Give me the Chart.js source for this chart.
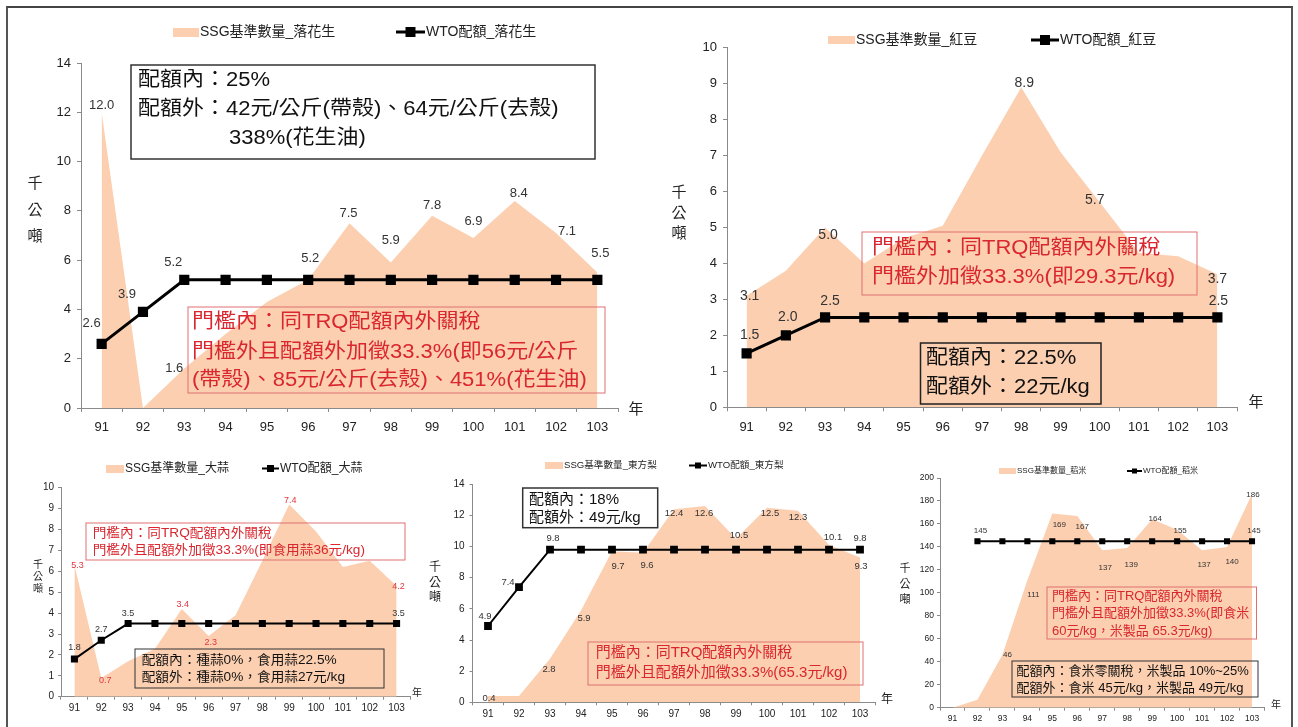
<!DOCTYPE html>
<html>
<head>
<meta charset="utf-8">
<script src="https://cdn.jsdelivr.net/npm/chart.js@4.4.1/dist/chart.umd.min.js"></script>
<style>
	html, body { margin: 0; padding: 0; background: #fff; }
	#wrap { position: relative; width: 1298px; height: 727px; overflow: hidden; }
	#wrap canvas { position: absolute; left: 0; top: 0; }
	#frame { position: absolute; left: 6px; top: 6px; width: 1283px; height: 740px;
		border-top: 2px solid #444; border-left: 2px solid #555; border-right: 2px solid #555; }
</style>
</head>
<body>
<div id="wrap"><div id="frame"></div></div>
<script>
( function () {
	'use strict';

	// ── Data ─────────────────────────────────────────────────────────────

	const YEARS = [ '91', '92', '93', '94', '95', '96', '97', '98', '99', '100', '101', '102', '103' ];

	// 落花生
	const peanutSsg = [ 12.0, 0, 1.6, 3.0, 4.3, 5.2, 7.5, 5.9, 7.8, 6.9, 8.4, 7.1, 5.5 ];
	const peanutWto = [ 2.6, 3.9, 5.2, 5.2, 5.2, 5.2, 5.2, 5.2, 5.2, 5.2, 5.2, 5.2, 5.2 ];
	const peanutSsgText = [ '12.0', null, '1.6', null, null, '5.2', '7.5', '5.9', '7.8', '6.9', '8.4', '7.1', '5.5' ];
	const peanutWtoText = [ '2.6', '3.9', '5.2', null, null, null, null, null, null, null, null, null, null ];

	// 紅豆
	const beanSsg = [ 3.1, 3.8, 5.0, 4.0, 4.7, 5.05, 7.0, 8.9, 7.1, 5.7, 4.3, 4.2, 3.7 ];
	const beanWto = [ 1.5, 2.0, 2.5, 2.5, 2.5, 2.5, 2.5, 2.5, 2.5, 2.5, 2.5, 2.5, 2.5 ];
	const beanSsgText = [ '3.1', null, '5.0', null, null, null, null, '8.9', null, '5.7', null, null, '3.7' ];
	const beanWtoText = [ '1.5', '2.0', '2.5', null, null, null, null, null, null, null, null, null, '2.5' ];

	// 大蒜 (the printed labels differ from the plotted heights in the source)
	const garlicSsg = [ 6.3, 0.9, 1.7, 2.3, 4.2, 2.9, 3.9, 6.5, 9.2, 7.9, 6.2, 6.5, 5.3 ];
	const garlicWto = [ 1.8, 2.7, 3.5, 3.5, 3.5, 3.5, 3.5, 3.5, 3.5, 3.5, 3.5, 3.5, 3.5 ];
	const garlicSsgText = [ '5.3', '0.7', null, null, '3.4', '2.3', null, null, '7.4', null, null, null, '4.2' ];
	const garlicWtoText = [ '1.8', '2.7', '3.5', null, null, null, null, null, null, null, null, null, '3.5' ];

	// 東方梨
	const pearSsg = [ 0.4, 0.4, 2.8, 5.9, 9.7, 9.6, 12.4, 12.6, 10.5, 12.5, 12.3, 10.1, 9.3 ];
	const pearWto = [ 4.9, 7.4, 9.8, 9.8, 9.8, 9.8, 9.8, 9.8, 9.8, 9.8, 9.8, 9.8, 9.8 ];
	const pearSsgText = [ '0.4', null, '2.8', '5.9', '9.7', '9.6', '12.4', '12.6', '10.5', '12.5', '12.3', '10.1', '9.3' ];
	const pearWtoText = [ '4.9', '7.4', '9.8', null, null, null, null, null, null, null, null, null, '9.8' ];

	// 稻米
	const riceSsg = [ 0, 7, 46, 111, 169, 167, 137, 139, 164, 155, 137, 140, 186 ];
	const riceWto = [ null, 145, 145, 145, 145, 145, 145, 145, 145, 145, 145, 145, 145 ];
	const riceSsgText = [ null, null, '46', '111', '169', '167', '137', '139', '164', '155', '137', '140', '186' ];
	const riceWtoText = [ null, '145', null, null, null, null, null, null, null, null, null, null, '145' ];

	// ── Styles ───────────────────────────────────────────────────────────

	const PEACH = '#FBCFB0';
	const AXIS = '#8a8a8a';
	const INK = '#222';
	const RED = '#D9262F';
	const RED_BOX = '#E07070';
	const FONT = '"Liberation Sans", Arial, "Noto Sans CJK TC", sans-serif';
	const Y_W = 60;

	function font( px ) {
		return px + 'px ' + FONT;
	}

	function stretchText( ctx, text, x, y, sx ) {
		ctx.save();
		ctx.translate( x, y );
		ctx.scale( sx || 1, 1 );
		ctx.fillText( text, 0, 0 );
		ctx.restore();
	}

	// ── Overlay: value labels, notes, legend, axis captions ──────────────

	function overlay( c ) {
		return {
			id: 'overlay_' + c.id,
			afterDatasetsDraw: function ( chart ) {
				var ctx = chart.ctx;
				c.valueLabels.forEach( function ( vl ) {
					var meta = chart.getDatasetMeta( vl.dataset );
					ctx.save();
					ctx.font = font( c.labelFont );
					ctx.fillStyle = vl.color;
					ctx.textAlign = 'center';
					ctx.textBaseline = 'middle';
					vl.text.forEach( function ( t, j ) {
						if ( t === null ) {
							return;
						}
						var p = meta.data[ j ];
						var off = ( vl.offsets && vl.offsets[ j ] ) || vl.def;
						ctx.fillText( t, p.x + off[ 0 ], p.y + off[ 1 ] );
					} );
					ctx.restore();
				} );
			},
			afterDraw: function ( chart ) {
				var ctx = chart.ctx;
				ctx.save();

				// note boxes
				c.notes.forEach( function ( n ) {
					ctx.strokeStyle = n.stroke;
					ctx.lineWidth = n.lw;
					ctx.strokeRect( n.box[ 0 ], n.box[ 1 ], n.box[ 2 ] - n.box[ 0 ], n.box[ 3 ] - n.box[ 1 ] );
					ctx.fillStyle = n.color;
					ctx.font = font( n.font );
					ctx.textAlign = 'left';
					ctx.textBaseline = 'middle';
					n.lines.forEach( function ( l ) {
						stretchText( ctx, l[ 0 ], l[ 1 ], l[ 2 ], n.sx );
					} );
				} );

				// legend
				var lg = c.legend;
				var ds = chart.data.datasets;
				ctx.fillStyle = PEACH;
				ctx.fillRect( lg.swatch[ 0 ], lg.swatch[ 1 ], lg.swatch[ 2 ], lg.swatch[ 3 ] );
				ctx.strokeStyle = '#000';
				ctx.lineWidth = c.lineW;
				ctx.beginPath();
				ctx.moveTo( lg.line[ 0 ], lg.y );
				ctx.lineTo( lg.line[ 1 ], lg.y );
				ctx.stroke();
				ctx.fillStyle = '#000';
				var m = ( lg.line[ 0 ] + lg.line[ 1 ] ) / 2;
				ctx.fillRect( m - lg.sq / 2, lg.y - lg.sq / 2, lg.sq, lg.sq );
				ctx.fillStyle = INK;
				ctx.font = font( lg.font );
				ctx.textAlign = 'left';
				ctx.textBaseline = 'middle';
				ctx.fillText( ds[ 0 ].label, lg.text[ 0 ], lg.y );
				ctx.fillText( ds[ 1 ].label, lg.text[ 1 ], lg.y );

				// y title (stacked) and year mark
				ctx.textAlign = 'center';
				ctx.font = font( c.yTitle.font );
				[ '千', '公', '噸' ].forEach( function ( ch, i ) {
					ctx.fillText( ch, c.yTitle.x, c.yTitle.y[ i ] );
				} );
				ctx.font = font( c.yearMark.font );
				ctx.fillText( '年', c.yearMark.x, c.yearMark.y );
				ctx.restore();
			},
		};
	}

	// ── Chart builder ────────────────────────────────────────────────────

	function buildChart( c ) {
		var canvas = document.createElement( 'canvas' );
		canvas.width = 1298;
		canvas.height = 727;
		document.getElementById( 'wrap' ).appendChild( canvas );

		// x axis box must be tall enough to hold its labels (they are clipped to it)
		var xH = Math.min( 30, 727 - c.plot[ 3 ] );

		new Chart( canvas.getContext( '2d' ), {
			type: 'line',
			data: {
				labels: YEARS,
				datasets: [ {
					label: c.ssgLabel,
					data: c.ssg,
					fill: 'origin',
					backgroundColor: PEACH,
					borderWidth: 0,
					pointRadius: 0,
					tension: 0,
					order: 2,
				}, {
					label: c.wtoLabel,
					data: c.wto,
					fill: false,
					borderColor: '#000',
					borderWidth: c.lineW,
					pointStyle: 'rect',
					pointRadius: c.pointR,
					pointBackgroundColor: '#000',
					pointBorderColor: '#000',
					pointBorderWidth: 0,
					tension: 0,
					order: 1,
				} ],
			},
			options: {
				responsive: false,
				animation: false,
				devicePixelRatio: 1,
				layout: {
					padding: {
						left: c.plot[ 0 ] - Y_W,
						top: c.plot[ 1 ],
						right: 1298 - c.plot[ 2 ],
						bottom: 727 - c.plot[ 3 ] - xH,
					},
				},
				plugins: {
					legend: { display: false },
					tooltip: { enabled: false },
				},
				scales: {
					x: {
						offset: true,
						grid: { offset: true, drawOnChartArea: false, tickLength: c.tickLen, color: AXIS },
						border: { color: AXIS },
						ticks: { font: { family: FONT, size: c.tickFont }, color: INK, padding: c.xPad, maxRotation: 0, autoSkip: false },
						afterFit: function ( s ) { s.height = xH; },
					},
					y: {
						min: 0,
						max: c.yMax,
						grid: { drawOnChartArea: false, tickLength: c.tickLen, color: AXIS },
						border: { color: AXIS },
						ticks: { stepSize: c.yStep, font: { family: FONT, size: c.tickFont }, color: INK, padding: c.yPad },
						afterFit: function ( s ) { s.width = Y_W; },
					},
				},
			},
			plugins: [ overlay( c ) ],
		} );
	}

	// ── Charts ───────────────────────────────────────────────────────────

	var charts = [ {
		id: 'peanut',
		ssgLabel: 'SSG基準數量_落花生',
		wtoLabel: 'WTO配額_落花生',
		ssg: peanutSsg,
		wto: peanutWto,
		plot: [ 81, 63, 618, 408 ],
		yMax: 14, yStep: 2,
		tickFont: 13, tickLen: 4, xPad: 8, yPad: 6,
		lineW: 3, pointR: 7.2, labelFont: 13,
		valueLabels: [ {
			dataset: 0, text: peanutSsgText, color: '#333', def: [ 0, -10 ],
			offsets: [ [ 0, -7 ], null, [ -10, 0 ], null, null, [ 2, -21 ], [ -1, -10 ], [ 0, -22 ], [ 0, -10 ], [ 0, -17 ], [ 4, -8 ], [ 11, -2 ], [ 3, -19 ] ],
		}, {
			dataset: 1, text: peanutWtoText, color: '#333', def: [ 0, -10 ],
			offsets: [ [ -10, -21 ], [ -16, -17 ], [ -11, -17 ] ],
		} ],
		notes: [ {
			box: [ 131, 65, 595, 159 ], stroke: '#333', lw: 1.5, color: '#111', font: 20, sx: 1.1,
			lines: [ [ '配額內：25%', 138, 80 ], [ '配額外：42元/公斤(帶殼)、64元/公斤(去殼)', 138, 109 ], [ '338%(花生油)', 229, 138 ] ],
		}, {
			box: [ 188, 307, 605, 393 ], stroke: RED_BOX, lw: 1, color: RED, font: 20, sx: 1.1,
			lines: [ [ '門檻內：同TRQ配額內外關稅', 192, 322 ], [ '門檻外且配額外加徵33.3%(即56元/公斤', 192, 352 ], [ '(帶殼)、85元/公斤(去殼)、451%(花生油)', 192, 380 ] ],
		} ],
		legend: { y: 32, swatch: [ 173, 28, 26, 9 ], line: [ 396, 425 ], sq: 10, text: [ 200, 426 ], font: 14 },
		yTitle: { x: 35, y: [ 184, 211, 237 ], font: 15 },
		yearMark: { x: 636, y: 410, font: 15 },
	}, {
		id: 'bean',
		ssgLabel: 'SSG基準數量_紅豆',
		wtoLabel: 'WTO配額_紅豆',
		ssg: beanSsg,
		wto: beanWto,
		plot: [ 727, 47.7, 1237, 407.3 ],
		yMax: 10, yStep: 1,
		tickFont: 13, tickLen: 4, xPad: 8, yPad: 6,
		lineW: 3, pointR: 7.2, labelFont: 14,
		valueLabels: [ {
			dataset: 0, text: beanSsgText, color: '#333', def: [ 0, -10 ],
			offsets: [ [ 3, 0 ], null, [ 3, 8 ], null, null, null, null, [ 3, -4 ], null, [ -5, -2 ], null, null, [ 0, 5 ] ],
		}, {
			dataset: 1, text: beanWtoText, color: '#333', def: [ 1, -16 ],
			offsets: [ [ 3, -18 ], [ 2, -18 ], [ 5, -16 ] ],
		} ],
		notes: [ {
			box: [ 862, 232, 1197, 295 ], stroke: RED_BOX, lw: 1, color: RED, font: 20, sx: 1.1,
			lines: [ [ '門檻內：同TRQ配額內外關稅', 872, 248 ], [ '門檻外加徵33.3%(即29.3元/kg)', 872, 277 ] ],
		}, {
			box: [ 920.5, 343, 1101, 404 ], stroke: '#222', lw: 1.5, color: '#111', font: 20, sx: 1.1,
			lines: [ [ '配額內：22.5%', 926, 358 ], [ '配額外：22元/kg', 926, 387 ] ],
		} ],
		legend: { y: 40, swatch: [ 828, 36, 27, 8 ], line: [ 1031, 1059 ], sq: 10, text: [ 856, 1060 ], font: 14 },
		yTitle: { x: 679, y: [ 193, 214, 234 ], font: 15 },
		yearMark: { x: 1256, y: 403, font: 15 },
	}, {
		id: 'garlic',
		ssgLabel: 'SSG基準數量_大蒜',
		wtoLabel: 'WTO配額_大蒜',
		ssg: garlicSsg,
		wto: garlicWto,
		plot: [ 61, 487.7, 410, 696.7 ],
		yMax: 10, yStep: 1,
		tickFont: 10, tickLen: 3, xPad: 3, yPad: 4,
		lineW: 2, pointR: 5, labelFont: 9,
		valueLabels: [ {
			dataset: 0, text: garlicSsgText, color: '#E0353D', def: [ 0, -5 ],
			offsets: [ [ 3, 0 ], [ 4, 3 ], null, null, [ 1, -4 ], [ 2, 6 ], null, null, [ 1, -4 ], null, null, null, [ 2, 1 ] ],
		}, {
			dataset: 1, text: garlicWtoText, color: '#333', def: [ 2, -10 ],
			offsets: [ [ 0, -12 ], [ 0, -11 ], [ 0, -10 ] ],
		} ],
		notes: [ {
			box: [ 86, 523, 405, 560 ], stroke: RED_BOX, lw: 1, color: RED, font: 13, sx: 1.05,
			lines: [ [ '門檻內：同TRQ配額內外關稅', 92.7, 533 ], [ '門檻外且配額外加徵33.3%(即食用蒜36元/kg)', 92.7, 550 ] ],
		}, {
			box: [ 135, 649, 384, 688 ], stroke: '#333', lw: 1, color: '#111', font: 13, sx: 1.05,
			lines: [ [ '配額內：種蒜0%，食用蒜22.5%', 141.7, 660 ], [ '配額外：種蒜0%，食用蒜27元/kg', 141.7, 677 ] ],
		} ],
		legend: { y: 468.5, swatch: [ 106, 465, 18, 8 ], line: [ 262, 279 ], sq: 7, text: [ 125, 280 ], font: 12 },
		yTitle: { x: 38, y: [ 565, 577, 589 ], font: 10 },
		yearMark: { x: 417, y: 693, font: 10 },
	}, {
		id: 'pear',
		ssgLabel: 'SSG基準數量_東方梨',
		wtoLabel: 'WTO配額_東方梨',
		ssg: pearSsg,
		wto: pearWto,
		plot: [ 472.5, 484.3, 875.5, 702.3 ],
		yMax: 14, yStep: 2,
		tickFont: 10, tickLen: 3, xPad: 3, yPad: 5,
		lineW: 2, pointR: 5.5, labelFont: 9.5,
		valueLabels: [ {
			dataset: 0, text: pearSsgText, color: '#333', def: [ 0, 8 ],
			offsets: [ [ 1, 2 ], null, [ -1, 11 ], [ 3, 8 ], [ 6, 15 ], [ 4, 13 ], [ 0, 4 ], [ -1, 7 ], [ 3, -3 ], [ 3, 6 ], [ 0, 7 ], [ 4, -8 ], [ 1, 9 ] ],
		}, {
			dataset: 1, text: pearWtoText, color: '#333', def: [ 0, -11 ],
			offsets: [ [ -3, -10 ], [ -11, -5 ], [ 3, -11 ] ],
		} ],
		notes: [ {
			box: [ 522.7, 488, 657.7, 527.7 ], stroke: '#333', lw: 1.5, color: '#111', font: 15, sx: 1,
			lines: [ [ '配額內：18%', 529, 500 ], [ '配額外：49元/kg', 529, 518 ] ],
		}, {
			box: [ 588, 642, 863, 685 ], stroke: RED_BOX, lw: 1, color: RED, font: 15, sx: 1,
			lines: [ [ '門檻內：同TRQ配額內外關稅', 595.7, 653 ], [ '門檻外且配額外加徵33.3%(65.3元/kg)', 595.7, 673 ] ],
		} ],
		legend: { y: 465.5, swatch: [ 545, 462, 18, 7 ], line: [ 689, 707 ], sq: 6, text: [ 564, 708 ], font: 9.6 },
		yTitle: { x: 435, y: [ 568, 584, 598 ], font: 12 },
		yearMark: { x: 887, y: 700, font: 12 },
	}, {
		id: 'rice',
		ssgLabel: 'SSG基準數量_稻米',
		wtoLabel: 'WTO配額_稻米',
		ssg: riceSsg,
		wto: riceWto,
		plot: [ 940, 478, 1264.5, 707.7 ],
		yMax: 200, yStep: 20,
		tickFont: 8.5, tickLen: 3, xPad: 3, yPad: 3,
		lineW: 2, pointR: 4.3, labelFont: 8,
		valueLabels: [ {
			dataset: 0, text: riceSsgText, color: '#333', def: [ 3, 15 ],
			offsets: [ null, null, [ 5, 0 ], [ 6, 15 ], [ 7, 11 ], [ 5, 11 ], [ 3, 17 ], [ 4, 17 ], [ 3, -1 ], [ 3, 1 ], [ 2, 14 ], [ 5, 15 ], [ 1, 1 ] ],
		}, {
			dataset: 1, text: riceWtoText, color: '#333', def: [ 2, -10 ],
			offsets: [ null, [ 3, -10 ] ],
		} ],
		notes: [ {
			box: [ 1047, 587, 1256.5, 639 ], stroke: RED_BOX, lw: 1, color: RED, font: 13, sx: 1,
			lines: [ [ '門檻內：同TRQ配額內外關稅', 1052, 596 ], [ '門檻外且配額外加徵33.3%(即食米', 1052, 613 ], [ '60元/kg，米製品 65.3元/kg)', 1052, 631 ] ],
		}, {
			box: [ 1012, 661, 1258, 697 ], stroke: '#333', lw: 1, color: '#111', font: 13, sx: 1,
			lines: [ [ '配額內：食米零關稅，米製品 10%~25%', 1016.6, 671 ], [ '配額外：食米 45元/kg，米製品 49元/kg', 1016.6, 688 ] ],
		} ],
		legend: { y: 471, swatch: [ 999, 468, 17, 6 ], line: [ 1127, 1142 ], sq: 5, text: [ 1017, 1143 ], font: 8 },
		yTitle: { x: 905, y: [ 569, 585, 600 ], font: 11 },
		yearMark: { x: 1276, y: 705, font: 10 },
	} ];

	charts.forEach( buildChart );
} )();
</script>
</body>
</html>
